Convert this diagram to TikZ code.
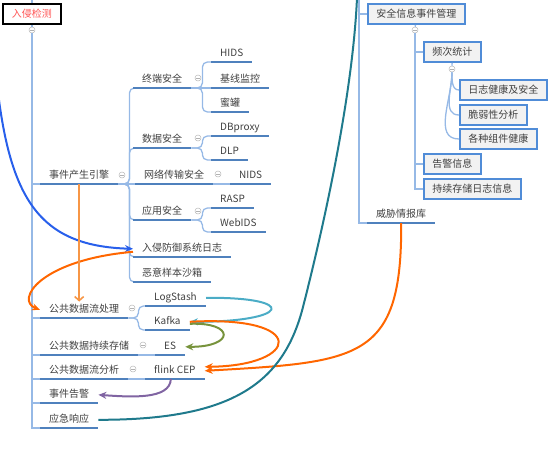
\documentclass[tikz,border=0pt]{standalone}
\usepackage{fontspec}
\setmainfont{Noto Sans CJK SC}
\usetikzlibrary{arrows.meta}

\definecolor{txt}{RGB}{64,64,64}
\definecolor{trunkc}{RGB}{150,185,230}
\definecolor{ulc}{RGB}{79,129,189}
\definecolor{boxc}{RGB}{80,140,215}
\definecolor{boxf}{RGB}{242,242,242}
\definecolor{rootred}{RGB}{255,85,85}
\definecolor{arblue}{RGB}{40,95,235}
\definecolor{arorange}{RGB}{255,102,0}
\definecolor{arlight}{RGB}{247,150,70}
\definecolor{arcyan}{RGB}{75,172,198}
\definecolor{argreen}{RGB}{119,147,60}
\definecolor{arpurple}{RGB}{128,100,162}
\definecolor{arteal}{RGB}{31,122,140}

\tikzset{
  topic/.style={anchor=south west, inner xsep=9pt, inner ysep=3pt, text height=8pt, text depth=2pt, text=txt, font=\fontsize{10}{12}\selectfont},
  infobox/.style={anchor=west, draw=boxc, line width=1.6pt, fill=boxf, inner xsep=8.5pt, minimum height=20pt, text height=8pt, text depth=2pt, text=txt, font=\fontsize{10}{12}\selectfont},
  rootbox/.style={draw=black, line width=1.8pt, fill=white, inner xsep=9pt, minimum height=20pt, text height=8pt, text depth=2pt, text=rootred, font=\fontsize{10}{12}\selectfont},
  fold/.style={circle, draw=gray!55, fill=white, line width=0.5pt, minimum size=6pt, inner sep=0pt,
    path picture={\draw[gray!60, line width=0.5pt] ([xshift=-1.6pt]path picture bounding box.center) -- ([xshift=1.6pt]path picture bounding box.center);}},
  trunk/.style={draw=trunkc, line width=1.3pt},
  conn/.style={draw=trunkc, line width=1.3pt, rounded corners=5pt},
  uline/.style={draw=ulc, line width=1.8pt},
  flow/.style={->, line width=2pt},
}

\begin{document}
\begin{tikzpicture}[x=1pt, y=-1pt, >={Stealth[length=8pt, width=7pt]}]
    \useasboundingbox (0,0) rectangle (554,450);
    \clip (0,0) rectangle (554,450);

    \coordinate (top1) at (32,0);
    \coordinate (top2) at (359,0);
    \coordinate (top3) at (357,-2);
    \coordinate (src) at (-3,84);

    \node[rootbox] (r) at (32,14) {入侵检测};
    \node[fold] (f0) at (32,30) {};

    \node[topic] (e1) at (40,184) {事件产生引擎};
    \node[topic] (p1) at (40,318) {公共数据流处理};
    \node[topic] (p2) at (40,355) {公共数据持续存储};
    \node[topic] (p3) at (40,379) {公共数据流分析};
    \node[topic] (a5) at (40,403) {事件告警};
    \node[topic] (a6) at (40,428) {应急响应};

    \node[topic] (s1) at (133,88) {终端安全};
    \node[topic] (s2) at (133,148) {数据安全};
    \node[topic] (s3) at (135,184) {网络传输安全};
    \node[topic] (s4) at (133,220) {应用安全};
    \node[topic] (s5) at (133,257) {入侵防御系统日志};
    \node[topic] (s6) at (133,282) {恶意样本沙箱};

    \node[topic] (h1) at (211,62) {HIDS};
    \node[topic] (h2) at (211,88) {基线监控};
    \node[topic] (h3) at (211,112) {蜜罐};
    \node[topic] (d1) at (211,136) {DBproxy};
    \node[topic] (d2) at (211,160) {DLP};
    \node[topic] (n1) at (230,184) {NIDS};
    \node[topic] (w1) at (211,208) {RASP};
    \node[topic] (w2) at (211,232) {WebIDS};

    \node[topic] (l1) at (145,306) {LogStash};
    \node[topic] (k1) at (145,330) {Kafka};
    \node[topic] (es) at (155,355) {ES};
    \node[topic] (fk) at (145,379) {flink CEP};

    \node[fold] (f1) at (122,175) {};
    \node[fold] (f2) at (198,78) {};
    \node[fold] (f3) at (198,138) {};
    \node[fold] (f4) at (218,174) {};
    \node[fold] (f5) at (198,211) {};
    \node[fold] (f6) at (132,308) {};
    \node[fold] (f7) at (143,345) {};
    \node[fold] (f8) at (133,369) {};

    \node[infobox] (m0) at (367,14) {安全信息事件管理};
    \node[fold] (g0) at (415,30) {};
    \node[infobox] (m1) at (423,52) {频次统计};
    \node[fold] (g1) at (452,69) {};
    \node[infobox] (m2) at (459,90) {日志健康及安全};
    \node[infobox] (m3) at (459,115) {脆弱性分析};
    \node[infobox] (m4) at (459,139) {各种组件健康};
    \node[infobox] (m5) at (423,164) {告警信息};
    \node[infobox] (m6) at (423,189) {持续存储日志信息};
    \node[topic] (th) at (367,223) {威胁情报库};

    \draw[trunk] (top1) -- (r);
    \draw[trunk] (r) -- (f0);
    \foreach \n in {e1,p1,p2,p3,a5,a6} \draw[trunk] (f0.south) |- (\n.south west);

    \foreach \n in {s1,s2,s4,s5,s6} \draw[conn] (e1.south east) -- ++(11,0) |- (\n.south west);
    \draw[trunk] (e1.south east) -- (s3.south west);
    \foreach \n in {h1,h3} \draw[conn] (s1.south east) -- ++(11,0) |- (\n.south west);
    \draw[trunk] (s1.south east) -- (h2.south west);
    \foreach \n in {d1,d2} \draw[conn] (s2.south east) -- ++(11,0) |- (\n.south west);
    \draw[trunk] (s3.south east) -- (n1.south west);
    \foreach \n in {w1,w2} \draw[conn] (s4.south east) -- ++(11,0) |- (\n.south west);
    \foreach \n in {l1,k1} \draw[conn] (p1.south east) -- ++(10,0) |- (\n.south west);
    \draw[trunk] (p2.south east) -- (es.south west);
    \draw[trunk] (p3.south east) -- (fk.south west);

    \draw[trunk] (top2) |- (m0.west);
    \draw[trunk] (top2) |- (th.south west);
    \draw[trunk] (m0) -- (g0);
    \foreach \n in {m1,m5,m6} \draw[trunk] (g0.south) |- (\n.west);
    \draw[trunk] (m1) -- (g1);
    \foreach \n in {m2,m3,m4} \draw[trunk] (g1.south) to[out=-90, in=180] (\n.west);

    \foreach \n in {e1,p1,p2,p3,a5,a6,s1,s2,s3,s4,s5,s6,h1,h2,h3,d1,d2,n1,w1,w2,l1,k1,es,fk,th}
        \draw[uline] (\n.south west) -- (\n.south east);

    \draw[flow, arblue] (src) .. controls (10,200) and (40,246) .. (s5.west);
    \draw[flow, arorange] ([yshift=-3pt]s5.west) .. controls (40,260) and (15,300) .. (p1.west);
    \draw[-{Straight Barb[length=4pt, width=9pt]}, arlight, line width=1.6pt] (e1.south) -- (e1.south |- p1.north);
    \draw[flow, arcyan] (l1.east) .. controls (300,297) and (290,322) .. (k1.east);
    \draw[flow, argreen] ([yshift=-2pt]k1.east) .. controls (235,322) and (235,347) .. (es.east);
    \draw[flow, arorange] (k1.east) .. controls (310,315) and (300,366) .. ([yshift=4pt]fk.east);
    \draw[flow, arorange] (th.south) .. controls (402,360) and (360,362) .. (fk.east);
    \draw[flow, arpurple] ([xshift=-4pt]fk.south) .. controls (170,400) and (130,397) .. (a5.east);
    \draw[arteal, line width=2pt] (a6.east) .. controls (230,420) and (283,385) .. (303,307)
        .. controls (315,260) and (352,110) .. (top3);
\end{tikzpicture}
\end{document}
